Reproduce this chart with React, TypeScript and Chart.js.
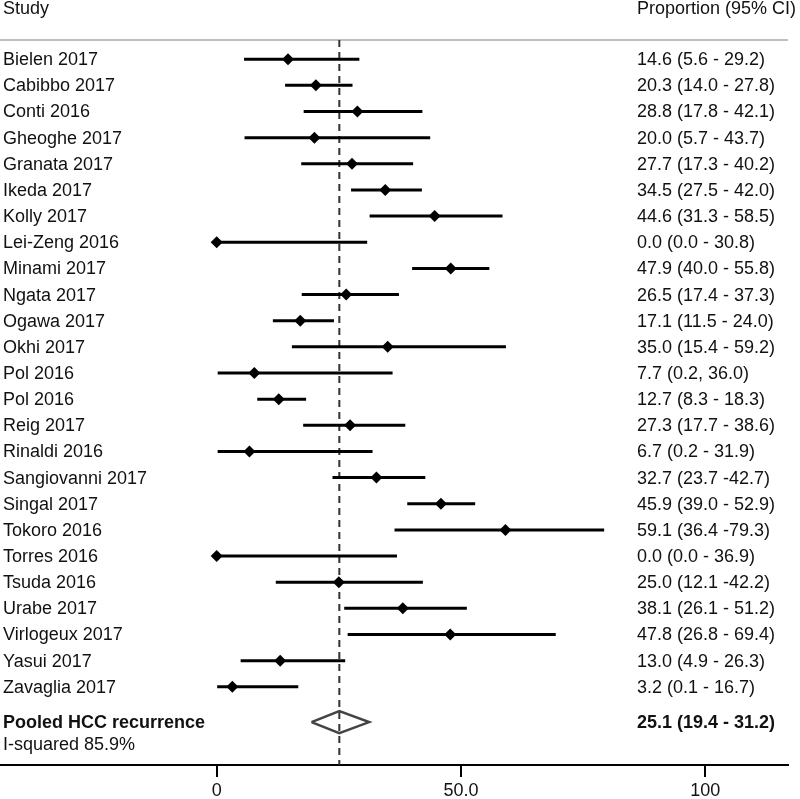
import React, { useEffect, useRef } from 'react';
import { Chart, registerables } from 'chart.js';

Chart.register(...registerables);

// ---------- data ----------
const studies = [
  'Bielen 2017', 'Cabibbo 2017', 'Conti 2016', 'Gheoghe 2017', 'Granata 2017',
  'Ikeda 2017', 'Kolly 2017', 'Lei-Zeng 2016', 'Minami 2017', 'Ngata 2017',
  'Ogawa 2017', 'Okhi 2017', 'Pol 2016', 'Pol 2016', 'Reig 2017',
  'Rinaldi 2016', 'Sangiovanni 2017', 'Singal 2017', 'Tokoro 2016', 'Torres 2016',
  'Tsuda 2016', 'Urabe 2017', 'Virlogeux 2017', 'Yasui 2017', 'Zavaglia 2017',
];
const estimates = [14.6, 20.3, 28.8, 20.0, 27.7, 34.5, 44.6, 0.0, 47.9, 26.5, 17.1, 35.0, 7.7, 12.7, 27.3, 6.7, 32.7, 45.9, 59.1, 0.0, 25.0, 38.1, 47.8, 13.0, 3.2];
const lowerCI = [5.6, 14.0, 17.8, 5.7, 17.3, 27.5, 31.3, 0.0, 40.0, 17.4, 11.5, 15.4, 0.2, 8.3, 17.7, 0.2, 23.7, 39.0, 36.4, 0.0, 12.1, 26.1, 26.8, 4.9, 0.1];
const upperCI = [29.2, 27.8, 42.1, 43.7, 40.2, 42.0, 58.5, 30.8, 55.8, 37.3, 24.0, 59.2, 36.0, 18.3, 38.6, 31.9, 42.7, 52.9, 79.3, 36.9, 42.2, 51.2, 69.4, 26.3, 16.7];
const ciLabels = [
  '14.6 (5.6 - 29.2)', '20.3 (14.0 - 27.8)', '28.8 (17.8 - 42.1)', '20.0 (5.7 - 43.7)', '27.7 (17.3 - 40.2)',
  '34.5 (27.5 - 42.0)', '44.6 (31.3 - 58.5)', '0.0 (0.0 - 30.8)', '47.9 (40.0 - 55.8)', '26.5 (17.4 - 37.3)',
  '17.1 (11.5 - 24.0)', '35.0 (15.4 - 59.2)', '7.7 (0.2, 36.0)', '12.7 (8.3 - 18.3)', '27.3 (17.7 - 38.6)',
  '6.7 (0.2 - 31.9)', '32.7 (23.7 -42.7)', '45.9 (39.0 - 52.9)', '59.1 (36.4 -79.3)', '0.0 (0.0 - 36.9)',
  '25.0 (12.1 -42.2)', '38.1 (26.1 - 51.2)', '47.8 (26.8 - 69.4)', '13.0 (4.9 - 26.3)', '3.2 (0.1 - 16.7)',
];
const pooledLabel = 'Pooled HCC recurrence';
const pooledEstimate = 25.1;
const pooledLower = 19.4;
const pooledUpper = 31.2;
const pooledText = '25.1 (19.4 - 31.2)';
const heterogeneityText = 'I-squared 85.9%';
const headerLeft = 'Study';
const headerRight = 'Proportion (95% CI)';
const tickValues = [0, 50, 100];
const tickLabels = ['0', '50.0', '100'];

// ---------- layout ----------
const X_MIN = -44.35;
const X_MAX = 116.93;
const Y_MIN = -2.264;
const Y_MAX = 26.99;
const HEADER_ROW = -1.97;
const RULE_ROW = -0.734;
const POOLED_ROW = 25.35;
const ISQ_ROW = 26.17;
const DIAMOND_HALF = 0.42;
const LEFT_TEXT_X = 3;
const RIGHT_TEXT_X = 637;
const FONT_FAMILY = '"Liberation Sans", Arial, Helvetica, sans-serif';
const TEXT_COLOR = '#111';

const forestText = {
  id: 'forestText',
  beforeDatasetsDraw(chart: any) {
    const { ctx, chartArea, scales } = chart;
    const y = scales.y;
    ctx.save();
    ctx.strokeStyle = '#c0c0c0';
    ctx.lineWidth = 2;
    const ry = Math.round(y.getPixelForValue(RULE_ROW));
    ctx.beginPath();
    ctx.moveTo(chartArea.left, ry);
    ctx.lineTo(chartArea.right, ry);
    ctx.stroke();
    ctx.restore();
  },
  afterDraw(chart: any) {
    const { ctx, scales } = chart;
    const y = scales.y;
    ctx.save();
    ctx.fillStyle = TEXT_COLOR;
    ctx.textBaseline = 'middle';
    ctx.textAlign = 'left';
    ctx.font = `18px ${FONT_FAMILY}`;
    const py = (v: number) => y.getPixelForValue(v) + 1;
    ctx.fillText(headerLeft, LEFT_TEXT_X, py(HEADER_ROW));
    ctx.fillText(headerRight, RIGHT_TEXT_X, py(HEADER_ROW));
    studies.forEach((s, i) => {
      ctx.fillText(s, LEFT_TEXT_X, py(i));
      ctx.fillText(ciLabels[i], RIGHT_TEXT_X, py(i));
    });
    ctx.fillText(heterogeneityText, LEFT_TEXT_X, py(ISQ_ROW));
    ctx.font = `bold 18px ${FONT_FAMILY}`;
    ctx.fillText(pooledLabel, LEFT_TEXT_X, py(POOLED_ROW));
    ctx.fillText(pooledText, RIGHT_TEXT_X, py(POOLED_ROW));
    ctx.restore();
  },
};

export default function App() {
  const canvasRef = useRef<HTMLCanvasElement | null>(null);

  useEffect(() => {
    if (!canvasRef.current) return;

    const pointData = estimates.map((e, i) => ({ x: e, y: i }));
    const ciDatasets = studies.map((_, i) => ({
      data: [
        { x: lowerCI[i], y: i },
        { x: upperCI[i], y: i },
      ],
      showLine: true,
      borderColor: '#000',
      borderWidth: 3,
      borderCapStyle: 'butt',
      pointRadius: 0,
      pointHoverRadius: 0,
    }));

    const chart = new Chart(canvasRef.current, {
      type: 'scatter',
      data: {
        datasets: [
          {
            data: pointData,
            pointStyle: 'rectRot',
            pointRadius: 6,
            pointHoverRadius: 6,
            backgroundColor: '#000',
            borderColor: '#000',
            borderWidth: 0,
            showLine: false,
          },
          ...ciDatasets,
          {
            data: [
              { x: pooledLower, y: POOLED_ROW },
              { x: pooledEstimate, y: POOLED_ROW - DIAMOND_HALF },
              { x: pooledUpper, y: POOLED_ROW },
              { x: pooledEstimate, y: POOLED_ROW + DIAMOND_HALF },
              { x: pooledLower, y: POOLED_ROW },
            ],
            showLine: true,
            borderColor: '#444',
            borderWidth: 2.5,
            borderJoinStyle: 'miter',
            fill: false,
            pointRadius: 0,
            pointHoverRadius: 0,
          },
          {
            data: [
              { x: pooledEstimate, y: RULE_ROW },
              { x: pooledEstimate, y: Y_MAX },
            ],
            showLine: true,
            borderColor: '#333',
            borderWidth: 2,
            borderDash: [7, 5],
            pointRadius: 0,
            pointHoverRadius: 0,
          },
        ] as any,
      },
      options: {
        animation: false,
        responsive: false,
        maintainAspectRatio: false,
        events: [],
        layout: { autoPadding: false, padding: { left: 0, right: 12, top: 0, bottom: 0 } },
        plugins: {
          legend: { display: false },
          tooltip: { enabled: false },
        },
        scales: {
          x: {
            type: 'linear',
            position: 'bottom',
            min: X_MIN,
            max: X_MAX,
            afterBuildTicks: (s: any) => {
              s.ticks = tickValues.map((v) => ({ value: v }));
            },
            afterFit: (s: any) => {
              s.height = 34;
              s.paddingLeft = 0;
              s.paddingRight = 0;
            },
            border: { display: true, color: '#000', width: 2 },
            grid: {
              display: true,
              drawOnChartArea: false,
              drawTicks: true,
              tickLength: 12,
              color: '#000',
              lineWidth: 2,
            },
            ticks: {
              padding: 3,
              color: TEXT_COLOR,
              autoSkip: false,
              maxRotation: 0,
              font: { family: FONT_FAMILY, size: 18 },
              callback: (_v: any, idx: number) => tickLabels[idx] ?? '',
            },
          },
          y: {
            type: 'linear',
            display: false,
            reverse: true,
            min: Y_MIN,
            max: Y_MAX,
          },
        },
      },
      plugins: [forestText],
    } as any);

    return () => chart.destroy();
  }, []);

  return (
    <div style={{ position: 'absolute', left: 0, top: 0, width: 800, height: 799, background: '#fff' }}>
      <canvas ref={canvasRef} width={800} height={799} style={{ display: 'block' }} />
    </div>
  );
}
